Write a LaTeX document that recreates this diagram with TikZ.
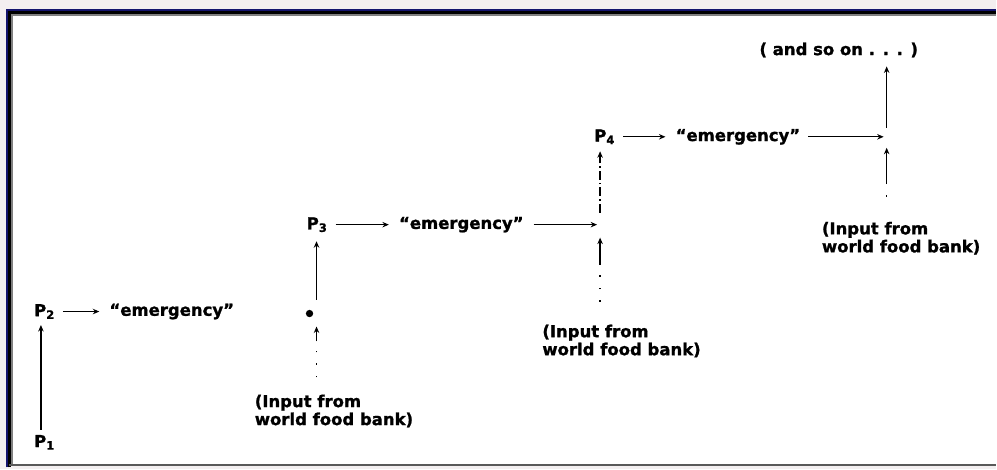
\documentclass[tikz,border=0pt]{standalone}
\usepackage{fontspec}
\setsansfont[BoldFeatures={FakeBold=1.2}]{DejaVu Sans}
\usetikzlibrary{arrows.meta, positioning}
\definecolor{pagegray}{RGB}{243,239,240}
\definecolor{framenavy}{RGB}{20,20,110}
\tikzset{
    x=1pt, y=-1pt, % one unit per pixel, y running down the page
    >={Stealth[length=6.5pt, width=5.5pt]}, % small filled heads
    every node/.style={font=\sffamily\bfseries\fontsize{16.5}{18}\selectfont, inner sep=0pt}, % bold sans labels
    pop/.style={anchor=west}, % the P nodes
    flow/.style={->, line width=1.4pt}, % solid arrows
    feed/.style={line width=1.5pt, dash pattern=on 1.5pt off 11pt}, % dotted food bank lines
    bank/.style={align=left, anchor=north west}, % food bank labels
}

\begin{document}
\begin{tikzpicture}
    % page and frame
    \fill[pagegray] (0,0) rectangle (997,470);
    \fill[white] (12,15) rectangle (997,465);
    \draw[framenavy, line width=2pt] (7,468) -- (7,10) -- (997,10);
    \draw[black, line width=3pt] (9.5,468) -- (9.5,12.5) -- (997,12.5);
    \draw[gray, line width=2pt] (12,466) -- (12,15) -- (997,15);
    \draw[gray!70!black, line width=2pt] (9,466) -- (997,466);
    \useasboundingbox (0,0) rectangle (997,470);

    % populations and emergencies
    \node[pop] (p1) at (34,443) {P\textsubscript{1}};
    \node[pop] (p2) at (34,312) {P\textsubscript{2}};
    \node[pop] (p3) at (307,225) {P\textsubscript{3}};
    \node[pop] (p4) at (595,137) {P\textsubscript{4}};
    \node (e2) at (172,312) {“emergency”};
    \node (e3) at (462,225) {“emergency”};
    \node (e4) at (739,137) {“emergency”};
    \node (more) at (840,50) {( and so on . . . )};

    % junctions
    \node[circle, fill, inner sep=2.6pt] (d1) at (310,314) {};
    \coordinate (j1) at (317,314);
    \coordinate (j2) at (601,227);
    \coordinate (j3) at (888,137);
    \coordinate (s1) at (317,342);
    \coordinate (s2) at (601,265);
    \coordinate (s3) at (888,183);

    % input from the world food bank
    \node[bank] (f1) at (255,395) {(Input from\\world food bank)};
    \node[bank] (f2) at (543,325) {(Input from\\world food bank)};
    \node[bank] (f3) at (823,222) {(Input from\\world food bank)};

    % arrows
    \draw[flow, shorten <=5pt, shorten >=6pt] ([xshift=7pt]p1.north west) -- ([xshift=7pt]p2.south west);
    \draw[flow, shorten <=8pt, shorten >=10pt] (p2.east) -- (e2.west);
    \draw[flow, shorten <=8pt, shorten >=10pt] (p3.east) -- (e3.west);
    \draw[flow, shorten <=8pt, shorten >=10pt] (p4.east) -- (e4.west);
    \draw[flow, shorten <=10pt, shorten >=3pt] (e3.east) -- (e3.east -| j2);
    \draw[flow, shorten <=8pt, shorten >=3pt] (e4.east) -- (j3);

    \draw[flow, shorten <=14pt, shorten >=9pt] (j1) -- (j1 |- p3.south);
    \draw[feed, shorten <=17pt] (f1.north -| j1) -- (s1);
    \draw[flow, shorten >=13pt] (s1) -- (j1);

    \draw[->, line width=1.4pt, dash pattern=on 9pt off 3pt on 1.5pt off 3pt, shorten <=14pt, shorten >=7pt] (j2) -- (j2 |- p4.south);
    \draw[feed, shorten <=23pt] (f2.north -| j2) -- (s2);
    \draw[flow, shorten >=11pt] (s2) -- (j2);

    \draw[flow, shorten <=9pt, shorten >=9pt] (j3) -- (j3 |- more.south);
    \draw[feed, shorten <=25pt] (f3.north -| j3) -- (s3);
    \draw[flow, shorten >=11pt] (s3) -- (j3);
\end{tikzpicture}
\end{document}
